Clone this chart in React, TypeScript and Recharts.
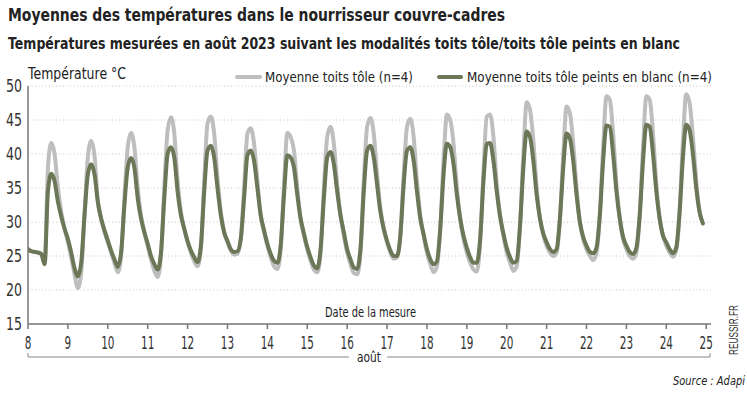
import React from "react";
import {
  LineChart,
  Line,
  XAxis,
  YAxis,
  CartesianGrid,
} from "recharts";

// jours d'août (axe x) et heures de mesure dans chaque journée
const days = [8, 9, 10, 11, 12, 13, 14, 15, 16, 17, 18, 19, 20, 21, 22, 23, 24];
const hours = [0, 2, 4, 6, 8, 10, 12, 14, 16, 18, 20, 22];
const dayTicks = [8, 9, 10, 11, 12, 13, 14, 15, 16, 17, 18, 19, 20, 21, 22, 23, 24, 25];
const tempTicks = [15, 20, 25, 30, 35, 40, 45, 50];

// Moyenne toits tôle (n=4), une ligne par jour
const toleRows = [
  [26.0, 25.7, 25.6, 25.5, 25.3, 23.8, 38.0, 41.6, 40.0, 35.0, 31.5, 29.0],
  [27.0, 24.8, 22.3, 20.3, 22.5, 31.0, 39.5, 41.9, 39.8, 33.0, 30.5, 28.5],
  [27.0, 25.5, 24.0, 22.6, 25.0, 33.5, 41.0, 43.1, 41.0, 35.0, 31.0, 28.5],
  [26.5, 24.5, 22.8, 21.9, 25.0, 35.0, 43.5, 45.4, 43.0, 36.0, 31.5, 29.0],
  [27.0, 25.5, 24.2, 23.5, 26.0, 36.0, 44.5, 45.5, 43.0, 36.5, 31.5, 28.5],
  [27.0, 25.8, 25.2, 25.3, 27.5, 35.0, 43.0, 43.8, 41.5, 36.0, 31.0, 28.5],
  [26.5, 24.8, 23.5, 23.1, 26.0, 35.5, 43.1, 42.5, 40.5, 35.0, 30.5, 28.0],
  [26.0, 24.3, 23.0, 22.6, 25.5, 35.0, 42.5, 44.0, 41.5, 35.5, 31.0, 28.0],
  [25.5, 23.8, 22.5, 22.3, 25.5, 36.0, 44.0, 45.3, 43.0, 37.0, 32.0, 29.0],
  [27.0, 25.5, 24.6, 24.8, 28.0, 37.0, 44.0, 45.2, 42.5, 36.0, 31.0, 28.0],
  [25.5, 23.8, 22.6, 23.5, 29.0, 39.0, 45.8, 45.0, 41.5, 35.0, 30.5, 27.5],
  [25.5, 24.0, 23.0, 22.7, 27.0, 37.5, 45.5, 45.8, 42.5, 35.5, 31.0, 28.0],
  [25.5, 24.0, 22.8, 23.5, 29.5, 40.0, 47.6, 46.5, 42.0, 35.0, 30.5, 28.0],
  [26.5, 25.5, 25.0, 25.5, 30.5, 40.0, 47.0, 46.0, 41.5, 35.0, 30.0, 27.5],
  [26.0, 25.0, 24.4, 25.5, 31.0, 41.0, 48.5, 48.0, 43.0, 35.5, 30.5, 27.5],
  [26.0, 25.0, 24.6, 25.5, 31.0, 41.0, 48.5, 48.0, 43.0, 35.5, 30.5, 28.0],
  [26.5, 25.5, 24.9, 25.8, 31.5, 42.0, 48.8, 47.5, 42.5, 36.0, 31.5, 29.8],
];

// Moyenne toits tôle peints en blanc (n=4)
const blancRows = [
  [26.0, 25.7, 25.6, 25.5, 25.3, 23.8, 34.5, 37.1, 36.0, 33.0, 30.8, 29.0],
  [27.5, 25.5, 23.2, 22.0, 24.0, 31.0, 37.0, 38.5, 37.0, 33.0, 30.5, 28.8],
  [27.3, 25.8, 24.5, 23.4, 25.5, 32.5, 38.0, 39.4, 38.0, 33.5, 30.5, 28.5],
  [26.8, 25.0, 23.8, 23.0, 25.5, 33.5, 40.0, 41.0, 39.5, 34.5, 31.0, 29.0],
  [27.2, 25.8, 24.8, 24.1, 26.5, 34.5, 40.5, 41.2, 39.5, 35.0, 31.0, 28.5],
  [27.2, 26.0, 25.6, 25.7, 27.5, 33.5, 39.8, 40.5, 39.0, 35.0, 31.0, 28.8],
  [26.8, 25.3, 24.3, 24.0, 26.5, 34.0, 39.8, 39.5, 38.0, 34.0, 30.5, 28.3],
  [26.3, 24.8, 23.6, 23.2, 26.0, 33.5, 39.5, 40.3, 38.5, 34.5, 31.0, 28.5],
  [26.0, 24.5, 23.3, 23.1, 26.0, 34.5, 40.5, 41.2, 39.5, 35.5, 31.5, 29.0],
  [27.2, 25.8, 25.0, 25.0, 28.0, 35.5, 40.5, 41.0, 39.0, 34.5, 30.5, 28.2],
  [26.0, 24.5, 23.8, 24.2, 29.0, 37.0, 41.5, 41.0, 38.5, 34.0, 30.5, 28.0],
  [26.2, 24.8, 24.0, 24.0, 27.5, 36.0, 41.5, 41.6, 39.0, 34.5, 30.8, 28.3],
  [26.2, 24.8, 24.0, 24.3, 29.5, 38.0, 43.3, 42.5, 39.0, 34.0, 30.5, 28.3],
  [27.0, 26.0, 25.6, 26.0, 30.5, 38.0, 43.0, 42.3, 39.0, 34.0, 30.0, 27.8],
  [26.5, 25.6, 25.4, 26.2, 31.0, 39.0, 44.2, 44.0, 40.0, 34.5, 30.5, 27.8],
  [26.5, 25.6, 25.3, 26.2, 31.0, 39.0, 44.3, 44.0, 40.0, 34.5, 30.5, 28.0],
  [27.0, 26.0, 25.4, 26.3, 31.5, 39.5, 44.3, 43.5, 40.0, 35.0, 31.5, 29.8],
];

const GREY = "#bebebe";
const GREEN = "#6c7757";
const FONT = "'DejaVu Sans', sans-serif";
const INK = "#222";

const data = days.flatMap((d, i) =>
  hours.map((h, j) => ({
    t: d + h / 24,
    tole: toleRows[i][j],
    blanc: blancRows[i][j],
  }))
);

// police de l'original très étroite : on comprime les libellés horizontalement
function XTick({ x, y, payload }: any) {
  return (
    <g transform={`translate(${x},${y})`}>
      <text transform="scale(0.58,1)" textAnchor="middle" y={20} fontSize={18} fontFamily={FONT} fill="#333">
        {payload.value}
      </text>
    </g>
  );
}

function YTick({ x, y, payload }: any) {
  return (
    <g transform={`translate(${x - 6},${y})`}>
      <text transform="scale(0.74,1)" textAnchor="end" y={6} fontSize={17} fontFamily={FONT} fill="#333">
        {payload.value}
      </text>
    </g>
  );
}

// texte svg calé sur une largeur mesurée dans l'original
function Fit({ x, y, w, size, bold, italic, children, anchor = "start" }: any) {
  return (
    <text
      x={x}
      y={y}
      textLength={w}
      lengthAdjust="spacingAndGlyphs"
      fontSize={size}
      fontWeight={bold ? 700 : 400}
      fontStyle={italic ? "italic" : "normal"}
      fontFamily={FONT}
      textAnchor={anchor}
      fill={INK}
    >
      {children}
    </text>
  );
}

export default function App() {
  return (
    <div style={{ position: "absolute", left: 0, top: 0, width: 747, height: 393, background: "#fff", overflow: "hidden" }}>
      <div style={{ position: "absolute", left: 0, top: 0 }}>
        <LineChart width={747} height={393} data={data} margin={{ top: 86, right: 36, bottom: 39, left: 0 }}>
          <CartesianGrid vertical={false} stroke="#c4c4c4" strokeDasharray="1 2.5" />
          <XAxis
            type="number"
            dataKey="t"
            domain={[8, 25.12]}
            ticks={dayTicks}
            allowDataOverflow
            height={30}
            tickSize={5}
            tickMargin={0}
            stroke="#777"
            strokeWidth={1.5}
            tick={<XTick />}
          />
          <YAxis
            type="number"
            domain={[15, 50]}
            ticks={tempTicks}
            width={28}
            tickLine={false}
            tickSize={0}
            tickMargin={0}
            stroke="#777"
            strokeWidth={1.5}
            tick={<YTick />}
          />
          <Line type="monotone" dataKey="tole" stroke={GREY} strokeWidth={4} dot={false} isAnimationActive={false} strokeLinecap="round" />
          <Line type="monotone" dataKey="blanc" stroke={GREEN} strokeWidth={4} dot={false} isAnimationActive={false} strokeLinecap="round" />
        </LineChart>
      </div>

      <svg width={747} height={393} style={{ position: "absolute", left: 0, top: 0, pointerEvents: "none" }}>
        <Fit x={8} y={21} w={497} size={18} bold>
          Moyennes des températures dans le nourrisseur couvre-cadres
        </Fit>
        <Fit x={8} y={49} w={672} size={15.5} bold>
          Températures mesurées en août 2023 suivant les modalités toits tôle/toits tôle peints en blanc
        </Fit>
        <Fit x={28} y={79} w={98} size={15}>
          Température °C
        </Fit>

        {/* légende */}
        <line x1={237} y1={77} x2={260} y2={77} stroke={GREY} strokeWidth={4} strokeLinecap="round" />
        <Fit x={265} y={82} w={148} size={14.5}>
          Moyenne toits tôle (n=4)
        </Fit>
        <line x1={439} y1={77} x2={461} y2={77} stroke={GREEN} strokeWidth={4} strokeLinecap="round" />
        <Fit x={467} y={82} w={245} size={14.5}>
          Moyenne toits tôle peints en blanc (n=4)
        </Fit>

        <Fit x={325} y={317} w={91} size={14}>
          Date de la mesure
        </Fit>

        {/* accolade "août" */}
        <path d="M28,353 V357 H349" fill="none" stroke="#888" strokeWidth={1} />
        <path d="M387,357 H710 V353" fill="none" stroke="#888" strokeWidth={1} />
        <Fit x={357} y={362} w={24} size={14}>
          août
        </Fit>

        <Fit x={745} y={385} w={72} size={12} italic anchor="end">
          Source : Adapi
        </Fit>
        <g transform="translate(738,355) rotate(-90)">
          <text x={0} y={0} textLength={50} lengthAdjust="spacingAndGlyphs" fontSize={12} fontFamily="'Liberation Sans', sans-serif" fill="#333">
            REUSSIR.FR
          </text>
        </g>
      </svg>
    </div>
  );
}
